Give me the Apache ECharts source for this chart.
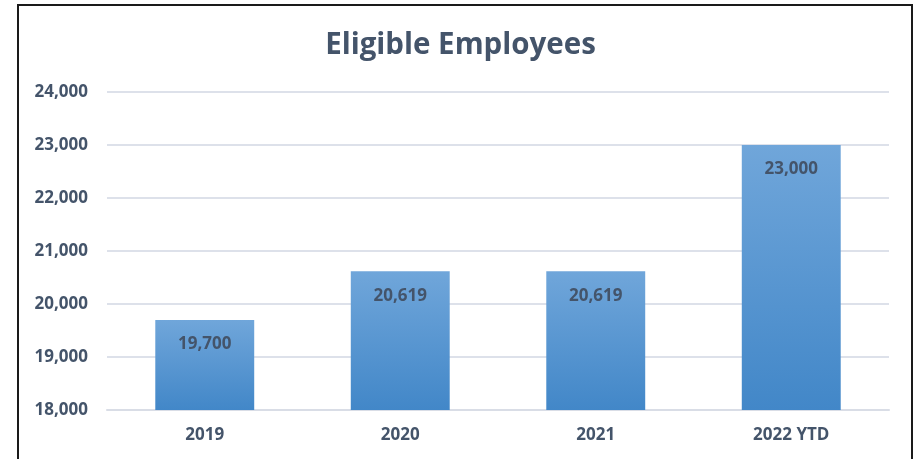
<!DOCTYPE html>
<html>
<head>
<meta charset="utf-8">
<script src="https://cdn.jsdelivr.net/npm/echarts@6/dist/echarts.min.js"></script>
<style>
html,body{margin:0;padding:0;background:#fff;}
#chart{width:921px;height:459px;}
</style>
</head>
<body>
<div id="chart"></div>
<script>
const categories = ['2019', '2020', '2021', '2022 YTD'];
const values = [19700, 20619, 20619, 23000];
const yTicks = [18000, 19000, 20000, 21000, 22000, 23000, 24000];
const titleText = 'Eligible Employees';

const textColor = '#44546a';
const font = '"Open Sans", Lato, sans-serif';
const chart = echarts.init(document.getElementById('chart'));
chart.setOption({
  animation: false,
  backgroundColor: '#ffffff',
  title: {
    text: titleText,
    left: 'center',
    top: 26,
    textStyle: { fontFamily: font, fontWeight: 'bold', fontSize: 29.5, color: textColor }
  },
  graphic: [{
    type: 'rect',
    shape: { x: 18, y: 5, width: 894, height: 470 },
    style: { fill: 'none', stroke: '#1a1a1a', lineWidth: 2 },
    silent: true
  }],
  grid: { left: 107, right: 32, top: 92, bottom: 49, containLabel: false },
  xAxis: {
    type: 'category',
    data: categories,
    axisLine: { show: true, lineStyle: { color: '#d9dde6', width: 2 } },
    axisTick: { show: false },
    axisLabel: { color: textColor, fontFamily: font, fontWeight: 'bold', fontSize: 17, margin: 17 }
  },
  yAxis: {
    type: 'value',
    min: yTicks[0],
    max: yTicks[yTicks.length - 1],
    interval: 1000,
    axisLine: { show: false },
    axisTick: { show: false },
    splitLine: { lineStyle: { color: '#dde1ea', width: 2 } },
    axisLabel: {
      color: textColor, fontFamily: font, fontWeight: 'bold', fontSize: 17, margin: 19,
      formatter: v => v.toLocaleString('en-US')
    }
  },
  series: [{
    type: 'bar',
    data: values,
    barWidth: '50.6%',
    itemStyle: {
      color: new echarts.graphic.LinearGradient(0, 0, 0, 1, [
        { offset: 0, color: '#70a6da' },
        { offset: 1, color: '#4287c8' }
      ])
    },
    label: {
      show: true,
      position: 'insideTop',
      distance: 16,
      color: textColor,
      fontFamily: font,
      fontWeight: 'bold',
      fontSize: 17,
      formatter: p => p.value.toLocaleString('en-US')
    }
  }]
});
</script>
</body>
</html>
